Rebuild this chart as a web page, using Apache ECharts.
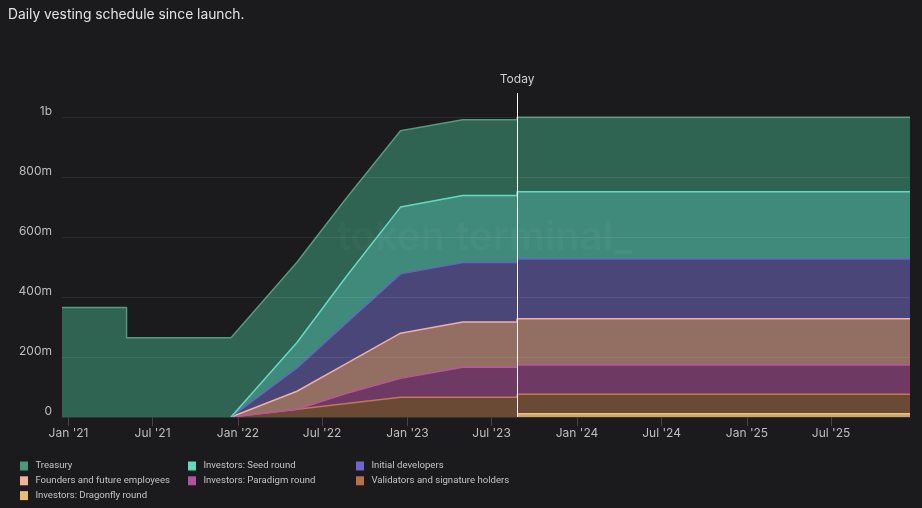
<html>
<head>
    <meta charset="utf-8">
    <title>Daily vesting schedule</title>
    <script src="https://cdn.jsdelivr.net/npm/echarts@6.0.0/dist/echarts.min.js"></script>
    <style>
        html, body { margin: 0; padding: 0; background: #1b1b1d; }
    </style>
</head>
<body>
<div id="chartmain" style="width:922px; height:508px;"></div>
<script type="text/javascript">
    // values in millions of tokens (null = not vesting yet)
    var dates = ['2020-12-18', '2021-05-06', '2021-05-06', '2021-12-17', '2022-05-08', '2022-08-23',
                 '2022-12-17', '2023-04-30', '2023-08-25', '2023-08-25', '2025-12-18'];
    var treasury    = [366, 366, 265, 265, 268, 261, 255, 253, 253, 249, 249];
    var seedRound   = [null, null, null, 0, 85, 156, 223, 224, 224, 224, 224];
    var initialDevs = [null, null, null, 0, 78, 136, 198, 199, 199, 200, 200];
    var founders    = [null, null, null, 0, 60, 100, 151, 151, 151, 154, 154];
    var paradigm    = [null, null, null, 0, 0, 34, 63, 100, 100, 98, 98];
    var validators  = [null, null, null, 0, 26, 45, 66, 66, 66, 65, 65];
    var dragonfly   = [null, null, null, null, null, null, null, null, null, 11, 11];

    var today = '2023-08-25';
    var startDate = '2020-12-18';
    var endDate = '2025-12-18';
    var monthNames = ['Jan', 'Feb', 'Mar', 'Apr', 'May', 'Jun', 'Jul', 'Aug', 'Sep', 'Oct', 'Nov', 'Dec'];

    // bottom of the stack first
    var seriesDefs = [
        { name: 'Investors: Dragonfly round', values: dragonfly, line: '#e6c27c', fill: '#c9a66e' },
        { name: 'Validators and signature holders', values: validators, line: '#c07a50', fill: '#6b4a35' },
        { name: 'Investors: Paradigm round', values: paradigm, line: '#bb54a2', fill: '#6e3a64' },
        { name: 'Founders and future employees', values: founders, line: '#f2b09e', fill: '#926f62' },
        { name: 'Initial developers', values: initialDevs, line: '#6a63c6', fill: '#4b4678' },
        { name: 'Investors: Seed round', values: seedRound, line: '#62dcc0', fill: '#3f8a7b' },
        { name: 'Treasury', values: treasury, line: '#4f9c7e', fill: '#2f6352' }
    ];
    var legendColors = {
        'Treasury': '#4a9a7a',
        'Investors: Seed round': '#62d8c0',
        'Initial developers': '#6e66cc',
        'Founders and future employees': '#f2b09e',
        'Investors: Paradigm round': '#b0529c',
        'Validators and signature holders': '#b87048',
        'Investors: Dragonfly round': '#e6c070'
    };
    // legend grid: 3 columns, filled row by row
    var legendOrder = ['Treasury', 'Investors: Seed round', 'Initial developers',
                       'Founders and future employees', 'Investors: Paradigm round', 'Validators and signature holders',
                       'Investors: Dragonfly round'];

    var myChart = echarts.init(document.getElementById('chartmain'));

    var series = seriesDefs.map(function (s) {
        return {
            name: s.name,
            type: 'line',
            stack: 'total',
            symbol: 'none',
            silent: true,
            connectNulls: false,
            itemStyle: { color: legendColors[s.name] },
            lineStyle: { color: s.line, width: 1.5 },
            areaStyle: { color: s.fill, opacity: 1 },
            emphasis: { disabled: true },
            data: s.values.map(function (v, i) { return [dates[i], v == null ? null : v * 1e6]; })
        };
    });
    series[series.length - 1].markLine = {
        silent: true,
        symbol: 'none',
        lineStyle: { color: '#ffffff', width: 1, type: 'solid' },
        label: { show: true, position: 'end', formatter: 'Today', color: '#cfcfcf', fontSize: 12, fontFamily: 'Inter', distance: 8 },
        data: [{ xAxis: today }]
    };

    var legends = legendOrder.map(function (n, i) {
        var col = i % 3, row = Math.floor(i / 3);
        return {
            left: 15 + col * 168,
            top: 455 + row * 14.8,
            icon: 'rect',
            itemWidth: 8,
            itemHeight: 9,
            selectedMode: false,
            formatter: function (name) { return ' ' + name; },
            textStyle: { color: '#c4c4c4', fontSize: 9.6, lineHeight: 12, fontFamily: 'Roboto' },
            data: [{ name: n, itemStyle: { color: legendColors[n] } }]
        };
    });

    myChart.setOption({
        backgroundColor: '#1b1b1d',
        animation: false,
        title: {
            text: 'Daily vesting schedule since launch.',
            left: 8, top: 8, padding: 0,
            textStyle: { color: '#e4e4e4', fontSize: 13.8, fontWeight: 'normal', fontFamily: 'Inter' }
        },
        graphic: [{
            type: 'text', left: 337, top: 218, silent: true, z: 100,
            style: { text: 'token terminal_', fill: 'rgba(255,255,255,0.032)', font: '600 40px Inter' }
        }],
        legend: legends,
        grid: { left: 62, right: 12, top: 93, bottom: 91 },
        xAxis: {
            type: 'time',
            min: startDate,
            max: endDate,
            splitNumber: 10,
            z: 5,
            axisLine: { show: true, lineStyle: { color: '#343434' } },
            axisTick: { show: true, length: 9, lineStyle: { color: '#444444' } },
            splitLine: { show: false },
            axisLabel: {
                color: '#bdbdbd', fontSize: 12, fontFamily: 'Inter', margin: 10,
                showMinLabel: false, showMaxLabel: false,
                formatter: function (v) {
                    var d = new Date(v);
                    return monthNames[d.getMonth()] + " '" + String(d.getFullYear()).slice(2);
                }
            }
        },
        yAxis: {
            type: 'value',
            min: 0,
            max: 1.082e9,
            interval: 2e8,
            z: 5,
            axisLine: { show: false },
            axisTick: { show: false },
            splitLine: { show: true, showMaxLine: false, lineStyle: { color: 'rgba(255,255,255,0.08)', width: 1 } },
            axisLabel: {
                color: '#bdbdbd', fontSize: 12, fontFamily: 'Inter', margin: 10,
                verticalAlign: 'bottom', lineHeight: 12, showMaxLabel: false,
                formatter: function (v) {
                    if (v === 0) return '0';
                    if (v >= 1e9) return (v / 1e9) + 'b';
                    return (v / 1e6) + 'm';
                }
            }
        },
        series: series
    });
</script>
</body>
</html>
